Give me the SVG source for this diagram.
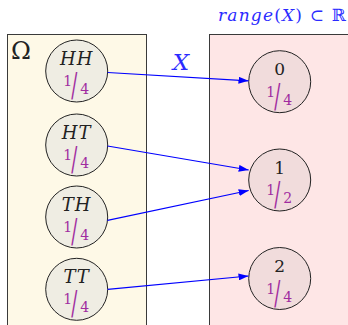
<svg xmlns="http://www.w3.org/2000/svg" width="348" height="325" viewBox="0 0 348 325">
<style>
.box{stroke:#3a3a3a;stroke-width:1}
.lc{fill:#efede3;stroke:#222;stroke-width:1}
.rc{fill:#f1dcdc;stroke:#222;stroke-width:1}
.sf{font-family:"DejaVu Serif","Liberation Serif",serif}
.lab{font-style:italic;font-size:18px;fill:#222;text-anchor:middle;letter-spacing:1px}
.num{font-size:17px;fill:#222;text-anchor:middle}
.fr{font-size:14px;fill:#a02ca0;text-anchor:middle}
.sl{font-size:30px;fill:#a02ca0;text-anchor:middle}
.arr{stroke:#0000ff;stroke-width:1.2;fill:none;marker-end:url(#ah)}
.blue{fill:#2b2bff}
</style>
<defs>
<marker id="ah" markerUnits="userSpaceOnUse" markerWidth="10" markerHeight="7" refX="10" refY="3.5" orient="auto">
<path d="M0,0 L10,3.5 L0,7 z" fill="#0000ff"/>
</marker>
</defs>
<rect class="box" x="7.5" y="34.5" width="139" height="300" fill="#fef9e7"/>
<rect class="box" x="209.5" y="34.5" width="150" height="300" fill="#fee6e6"/>
<text class="sf" x="11" y="59" font-size="24" fill="#222">Ω</text>
<text class="sf blue" x="218" y="21" font-size="17" textLength="128" lengthAdjust="spacing"><tspan font-style="italic">range</tspan>(<tspan font-style="italic">X</tspan>) ⊂ ℝ</text>
<text class="sf blue" x="181" y="70" font-size="23" font-style="italic" text-anchor="middle">X</text>
<g id="HH" class="sf" transform="translate(76.7,71)">
<circle class="lc" r="31"/>
<text class="lab" y="-6">HH</text>
<text class="fr" x="-9" y="15">1</text>
<text class="sl" transform="translate(-2.5,26) scale(0.6,1.1)">/</text>
<text class="fr" x="8" y="23">4</text>
</g>
<g id="HT" class="sf" transform="translate(76.7,145)">
<circle class="lc" r="31"/>
<text class="lab" y="-6">HT</text>
<text class="fr" x="-9" y="15">1</text>
<text class="sl" transform="translate(-2.5,26) scale(0.6,1.1)">/</text>
<text class="fr" x="8" y="23">4</text>
</g>
<g id="TH" class="sf" transform="translate(76.7,217)">
<circle class="lc" r="31"/>
<text class="lab" y="-6">TH</text>
<text class="fr" x="-9" y="15">1</text>
<text class="sl" transform="translate(-2.5,26) scale(0.6,1.1)">/</text>
<text class="fr" x="8" y="23">4</text>
</g>
<g id="TT" class="sf" transform="translate(76.7,289.3)">
<circle class="lc" r="31"/>
<text class="lab" y="-6">TT</text>
<text class="fr" x="-9" y="15">1</text>
<text class="sl" transform="translate(-2.5,26) scale(0.6,1.1)">/</text>
<text class="fr" x="8" y="23">4</text>
</g>
<g id="n0" class="sf" transform="translate(279.7,81.7)">
<circle class="rc" r="31"/>
<text class="num" y="-6.5">0</text>
<text class="fr" x="-9" y="15">1</text>
<text class="sl" transform="translate(-2.5,26) scale(0.6,1.1)">/</text>
<text class="fr" x="8" y="23">4</text>
</g>
<g id="n1" class="sf" transform="translate(279.7,180)">
<circle class="rc" r="31"/>
<text class="num" y="-6.5">1</text>
<text class="fr" x="-9" y="15">1</text>
<text class="sl" transform="translate(-2.5,26) scale(0.6,1.1)">/</text>
<text class="fr" x="8" y="23">2</text>
</g>
<g id="n2" class="sf" transform="translate(279.7,278.5)">
<circle class="rc" r="31"/>
<text class="num" y="-6.5">2</text>
<text class="fr" x="-9" y="15">1</text>
<text class="sl" transform="translate(-2.5,26) scale(0.6,1.1)">/</text>
<text class="fr" x="8" y="23">4</text>
</g>
<g id="connectors">
<line class="arr" x1="107.7" y1="72.5" x2="248.5" y2="80.8"/>
<line class="arr" x1="107.5" y1="146" x2="248.7" y2="170"/>
<line class="arr" x1="107.5" y1="220.3" x2="248.7" y2="190.5"/>
<line class="arr" x1="107.7" y1="289.3" x2="248.5" y2="276"/>
</g>
</svg>
